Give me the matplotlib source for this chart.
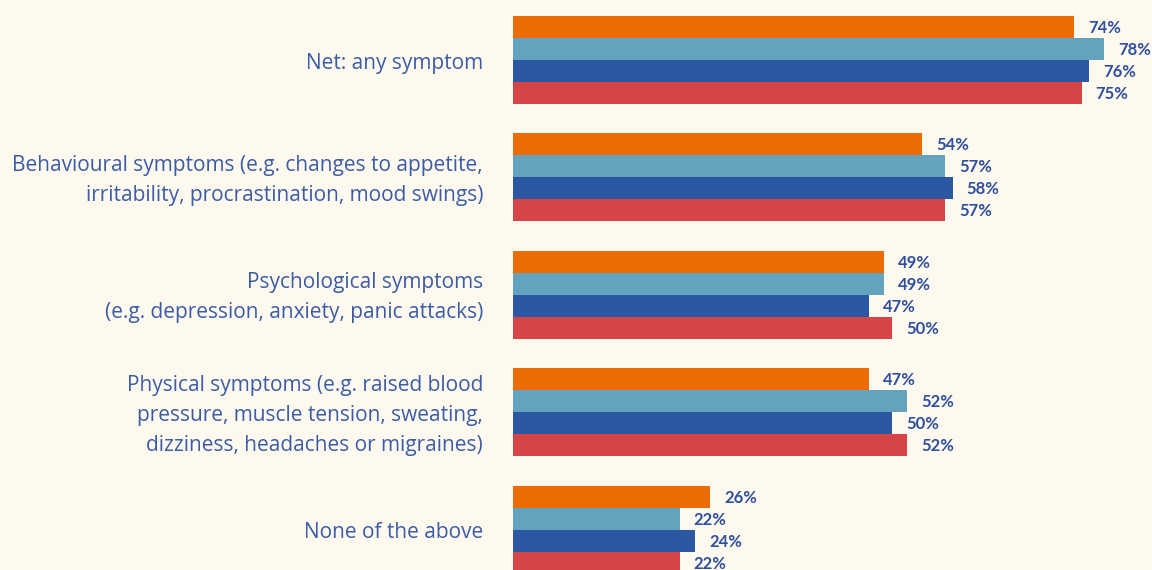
import matplotlib
matplotlib.use("Agg")
import matplotlib.pyplot as plt
import numpy as np

categories = [
    "Net: any symptom",
    "Behavioural symptoms (e.g. changes to appetite,\nirritability, procrastination, mood swings)",
    "Psychological symptoms\n(e.g. depression, anxiety, panic attacks)",
    "Physical symptoms (e.g. raised blood\npressure, muscle tension, sweating,\ndizziness, headaches or migraines)",
    "None of the above",
]
series_a = [74, 54, 49, 47, 26]  # orange
series_b = [78, 57, 49, 52, 22]  # light blue
series_c = [76, 58, 47, 50, 24]  # dark blue
series_d = [75, 57, 50, 52, 22]  # red
all_series = [series_a, series_b, series_c, series_d]
colors = ["#EC6C03", "#64A3BD", "#2C57A3", "#D54545"]

BG = "#FEF9EE"
LABEL_COLOR = "#3B5CA6"
VALUE_COLOR = "#2D4F9E"

W, H = 1152, 570
fig = plt.figure(figsize=(W / 100, H / 100), dpi=100, facecolor=BG)
ax_left = 513 / W
ax = fig.add_axes([ax_left, 0, 1 - ax_left, 1])
ax.set_facecolor(BG)

bar_h = 1.0
group_step = 5.34
px_per_unit_y = 22.0
px_per_pct = 7.58

for g in range(len(categories)):
    for s, vals in enumerate(all_series):
        y = g * group_step + s * bar_h
        ax.barh(y, vals[g], height=bar_h, color=colors[s], align="center", linewidth=0)
        ax.annotate(f"{vals[g]}%", xy=(vals[g], y), xytext=(14, -1), textcoords="offset pixels",
                    ha="left", va="center", fontsize=12, fontweight="bold",
                    color=VALUE_COLOR, family="Lato")
    yc = g * group_step + 1.5 * bar_h
    ax.annotate(categories[g], xy=(0, yc), xytext=(-30, -3), textcoords="offset pixels",
                ha="right", va="center", multialignment="right", fontsize=15,
                color=LABEL_COLOR, family="Open Sans", linespacing=1.56, annotation_clip=False)

top = -0.5 - 16 / px_per_unit_y
ax.set_ylim(top + H / px_per_unit_y, top)
ax.set_xlim(0, (W - 513) / px_per_pct)
ax.axis("off")

fig.savefig("out.png", dpi=100, facecolor=BG)
